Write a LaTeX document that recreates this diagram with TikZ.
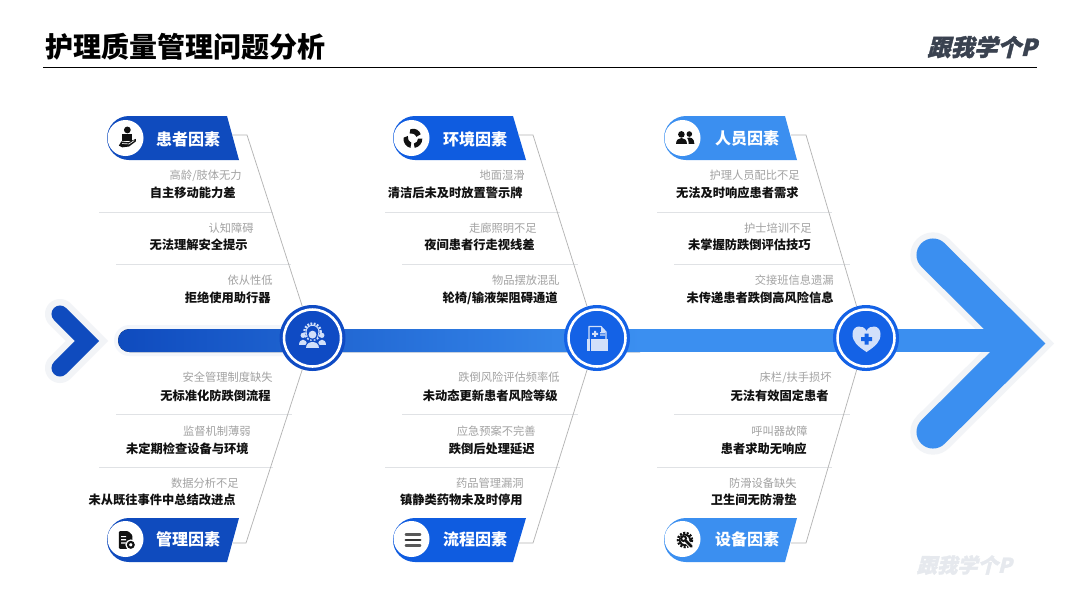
\documentclass[tikz,border=0pt]{standalone}
\usepackage{fontspec}
\setmainfont{Noto Sans CJK SC}
\newfontfamily\logofont[FakeSlant=0.25,BoldFeatures={FakeSlant=0.25,FakeBold=1.6}]{Noto Sans CJK SC}
\definecolor{navy}{HTML}{0F4BBE}
\definecolor{mid}{HTML}{0F5CE0}
\definecolor{sky}{HTML}{3B8FF0}
\definecolor{hubA}{HTML}{0F4BC4}
\definecolor{hubB}{HTML}{1462E6}
\definecolor{halo}{HTML}{F2F4F7}
\definecolor{spinehalo}{HTML}{F3F6FB}
\definecolor{pale}{HTML}{D2E0FA}
\definecolor{sepc}{HTML}{E0E2E5}
\definecolor{leadc}{HTML}{B4B4B4}
\definecolor{graytxt}{HTML}{A2A2A2}
\definecolor{inkc}{HTML}{111111}
\definecolor{logoc}{HTML}{3A4250}
\definecolor{wmc}{HTML}{E6E9EE}
\tikzset{
  sym/.style={text height=8.4pt,text depth=1pt,inner sep=0pt,anchor=east},
  gt/.style={sym,font=\fontsize{8.45}{10}\selectfont,text=graytxt},
  bt/.style={sym,font=\fontsize{9.2}{10}\selectfont\bfseries,text=inkc},
  tagtxt/.style={inner sep=0pt,text=white,font=\fontsize{12}{13}\selectfont\bfseries},
  sepl/.style={draw=sepc,line width=0.6pt},
  leader/.style={draw=leadc,line width=0.55pt},
  hub/.style={circle,minimum size=49.5pt,inner sep=0pt,fill=#1},
  ring/.style={draw=white,line width=1.9pt},
  ico/.style={fill=inkc,draw=none},
}
\newcommand{\tagshape}[5]{% colour, x0, ytop, xtopright, xbotright
  \fill[#1] (#4,#3) -- (#5,#3+44) -- (#2+22,#3+44) arc (90:270:22) -- cycle;
  \fill[white] (#2+18.5,#3+22) circle[radius=18];}
\begin{document}
\begin{tikzpicture}[x=0.75pt,y=-0.75pt]
\useasboundingbox (0,0) rectangle (1080,608);
\fill[white] (0,0) rectangle (1080,608);

% header
\node[inner sep=0pt,anchor=west,font=\fontsize{21}{24}\selectfont\bfseries] (title) at (45,47) {护理质量管理问题分析};
\coordinate (ruleL) at (43,67.5);
\coordinate (ruleR) at (1037,67.5);
\draw[line width=1.2pt,black] (ruleL) -- (ruleR);
\node[inner sep=0pt,anchor=east,font=\fontsize{17.5}{18}\logofont\bfseries,text=logoc] (logo) at (1037,47) {跟我学个P};
\node[inner sep=0pt,anchor=east,font=\fontsize{15.2}{16}\logofont\bfseries,text=wmc] (mark) at (1012,565) {跟我学个P};

% separators
\foreach \xa/\xb/\yy in {99/273/212,116/291/264,116/292/414,99/273/467,
  385/560/212,402/578/264,402/578/414,385/560/467,
  657/832/212,674/850/264,674/850/414,657/832/467}{
  \draw[sepl] (\xa,\yy) -- (\xb,\yy);}

% halos and ends of the spine
\draw[halo,line width=22.5pt,line cap=round,line join=miter] (60,314) -- (87,341) -- (60,368);
\draw[halo,line width=34pt,line cap=round,line join=miter] (933,255) -- (1022,343.5) -- (933,432);
\fill[spinehalo] (129.5,325) arc (270:90:15.5) -- (300,356) -- (300,325) -- cycle;
\draw[navy,line width=12.8pt,line cap=round,line join=miter] (60,314) -- (87,341) -- (60,368);

% spine
\fill[left color=navy,right color=sky] (129.5,329) arc (270:90:11.5) -- (640,352) -- (640,329) -- cycle;
\fill[sky] (639,329) rectangle (1000,352);
\draw[sky,line width=24.8pt,line cap=round,line join=miter] (933,255) -- (1022,343.5) -- (933,432);

% tags
\tagshape{navy}{107}{116}{227}{239}
\tagshape{mid}{393}{116}{513}{526}
\tagshape{sky}{664}{116}{785}{797}
\fill[navy] (239,518) -- (227,562) -- (129,562) arc (90:270:22) -- cycle;
\fill[white] (125.5,539) circle[radius=18];
\fill[mid] (526,518) -- (513,562) -- (415,562) arc (90:270:22) -- cycle;
\fill[white] (411.5,539) circle[radius=18];
\fill[sky] (797,518) -- (785,562) -- (686,562) arc (90:270:22) -- cycle;
\fill[white] (682.5,539) circle[radius=18];
\node[tagtxt] (tagA) at (188,139) {患者因素};
\node[tagtxt] (tagB) at (475,139) {环境因素};
\node[tagtxt] (tagC) at (747,139) {人员因素};
\node[tagtxt] (tagD) at (188,539) {管理因素};
\node[tagtxt] (tagE) at (475,539) {流程因素};
\node[tagtxt] (tagF) at (747,539) {设备因素};

% hubs
\node[hub=hubA] (hubL) at (312.5,338) {};
\node[hub=hubB] (hubM) at (597,338) {};
\node[hub=hubB] (hubR) at (866,338) {};
\draw[ring] (hubL) circle[radius=28.5];
\draw[ring] (hubM) circle[radius=28.5];
\draw[ring] (hubR) circle[radius=28.5];

% leaders
\coordinate (sA) at (232,135); \coordinate (eA) at (247,135);
\coordinate (sB) at (518,135); \coordinate (eB) at (533,135);
\coordinate (sC) at (791,135); \coordinate (eC) at (806,135);
\coordinate (sD) at (233,543); \coordinate (eD) at (246,543);
\coordinate (sE) at (518,543); \coordinate (eE) at (533,543);
\coordinate (sF) at (791,543); \coordinate (eF) at (806,543);
\draw[leader] (sA) -- (eA) -- (hubL);
\draw[leader] (sB) -- (eB) -- (hubM);
\draw[leader] (sC) -- (eC) -- (hubR);
\draw[leader] (sD) -- (eD) -- (hubL);
\draw[leader] (sE) -- (eE) -- (hubM);
\draw[leader] (sF) -- (eF) -- (hubR);

% causes, column 1
\node[gt] (a1) at (242,175) {高龄/肢体无力};
\node[bt] (a2) at (236,193) {自主移动能力差};
\node[gt] (a3) at (254,228) {认知障碍};
\node[bt] (a4) at (248,245) {无法理解安全提示};
\node[gt] (a5) at (273,280) {依从性低};
\node[bt] (a6) at (271,298) {拒绝使用助行器};
\node[gt] (d1) at (273,377) {安全管理制度缺失};
\node[bt] (d2) at (271,396) {无标准化防跌倒流程};
\node[gt] (d3) at (251,431) {监督机制薄弱};
\node[bt] (d4) at (249,449) {未定期检查设备与环境};
\node[gt] (d5) at (239,483) {数据分析不足};
\node[bt] (d6) at (236,500) {未从既往事件中总结改进点};
% column 2
\node[gt] (b1) at (525,175) {地面湿滑};
\node[bt] (b2) at (523,193) {清洁后未及时放置警示牌};
\node[gt] (b3) at (537,228) {走廊照明不足};
\node[bt] (b4) at (535,245) {夜间患者行走视线差};
\node[gt] (b5) at (560,280) {物品摆放混乱};
\node[bt] (b6) at (558,298) {轮椅/输液架阻碍通道};
\node[gt] (e1) at (560,377) {跌倒风险评估频率低};
\node[bt] (e2) at (558,396) {未动态更新患者风险等级};
\node[gt] (e3) at (536,431) {应急预案不完善};
\node[bt] (e4) at (535,449) {跌倒后处理延迟};
\node[gt] (e5) at (524,483) {药品管理漏洞};
\node[bt] (e6) at (523,500) {镇静类药物未及时停用};
% column 3
\node[gt] (c1) at (800,175) {护理人员配比不足};
\node[bt] (c2) at (799,193) {无法及时响应患者需求};
\node[gt] (c3) at (812,228) {护士培训不足};
\node[bt] (c4) at (811,245) {未掌握防跌倒评估技巧};
\node[gt] (c5) at (834,280) {交接班信息遗漏};
\node[bt] (c6) at (834,298) {未传递患者跌倒高风险信息};
\node[gt] (f1) at (832,377) {床栏/扶手损坏};
\node[bt] (f2) at (829,396) {无法有效固定患者};
\node[gt] (f3) at (808,431) {呼叫器故障};
\node[bt] (f4) at (807,449) {患者求助无响应};
\node[gt] (f5) at (797,483) {防滑设备缺失};
\node[bt] (f6) at (797,500) {卫生间无防滑垫};

% hub icons
\begin{scope}[shift={(312.5,337.5)},scale=0.72]
  \draw[pale,line width=1.7pt,dash pattern=on 1.4pt off 1.1pt] (0,-8) circle[radius=11.5];
  \draw[pale,line width=0.7pt] (0,-8) circle[radius=9];
  \fill[pale] (-13,-3) circle[radius=3.6] (13,-3) circle[radius=3.6];
  \fill[pale] (-19,10) .. controls (-19,1) and (-7,1) .. (-7,10) -- cycle;
  \fill[pale] (19,10) .. controls (19,1) and (7,1) .. (7,10) -- cycle;
  \fill[hubA] (0,-4) circle[radius=7.5];
  \fill[pale] (0,-4) circle[radius=5.5];
  \fill[hubA] (-10,14) .. controls (-10,1) and (10,1) .. (10,14) -- cycle;
  \fill[pale] (-8.5,14) .. controls (-8.5,3) and (8.5,3) .. (8.5,14) -- cycle;
\end{scope}
\begin{scope}[shift={(597,338)}]
  \draw[pale,line width=0.9pt,line join=round] (-8,1) -- (-8,-11.5) -- (4,-11.5) -- (9,-6) -- (9,1);
  \fill[pale] (4,-11.5) -- (4,-6) -- (9,-6) -- cycle;
  \fill[pale] (-5,-5.2) rectangle (1,-3.2) (-3,-7.2) rectangle (-1,-1.2);
  \fill[pale] (3,-5.8) rectangle (8,-4.6) (3,-3.6) rectangle (8,-2.4);
  \fill[pale] (-10,1) rectangle (11,12.5);
  \draw[hubB,line width=0.7pt] (-7,1) -- (-7,12.5);
\end{scope}
\begin{scope}[shift={(866.5,339)}]
  \fill[pale] (0,13) .. controls (-9,7) and (-14,3) .. (-14,-5) .. controls (-14,-14) and (-3,-15) .. (0,-8) .. controls (3,-15) and (14,-14) .. (14,-5) .. controls (14,3) and (9,7) .. (0,13) -- cycle;
  \fill[hubB] (-5.5,-2) rectangle (5.5,2) (-2,-5.5) rectangle (2,5.5);
\end{scope}

% tag icons
\begin{scope}[shift={(126.5,138)},scale=0.85]
  \fill[ico] (1,-9.5) circle[radius=4];
  \fill[ico] (-5,-4.5) rectangle (7,4);
  \fill[ico] (-9,9) -- (-6,4) -- (2,5) -- (11,1) -- (11,4) -- (3,10) -- (-5,11) -- cycle;
  \draw[white,line width=0.5pt] (-5,6.5) -- (3,7) -- (9,3);
\end{scope}
\begin{scope}[shift={(413,138.5)},scale=0.85]
  \fill[ico] (-3,-11) .. controls (3,-13) and (8,-9) .. (9,-5) -- (4,-2) .. controls (2,-6) and (-1,-6) .. (-4,-6) -- cycle;
  \fill[ico] (-11,-1) .. controls (-12,5) and (-8,10) .. (-3,11) -- (-2,5) .. controls (-5,4) and (-6,1) .. (-6,-3) -- cycle;
  \fill[ico] (11,0) .. controls (11,6) and (7,10) .. (2,11) -- (1,6) .. controls (4,5) and (6,3) .. (6,0) -- cycle;
\end{scope}
\begin{scope}[shift={(685,138)},scale=0.72]
  \fill[ico] (-5,-5) circle[radius=4.6] (6,-5.5) circle[radius=3.9];
  \fill[ico] (-13,8) .. controls (-13,-3) and (3,-3) .. (3,8) -- cycle;
  \fill[ico] (5,8) .. controls (5,3) and (4,1) .. (3,0) .. controls (7,-2) and (13,0) .. (13,8) -- cycle;
\end{scope}
\begin{scope}[shift={(126,540)},scale=0.8]
  \fill[ico,rounded corners=0.8pt] (-9,-11) -- (3,-11) -- (8,-6) -- (8,11) -- (-9,11) -- cycle;
  \fill[white] (-6,-5) rectangle (0,-3.6) (-6,-1) rectangle (0,0.4) (-6,3) rectangle (0,4.4);
  \fill[white] (6,6) circle[radius=6.8];
  \draw[draw=inkc,fill=none,line width=1.6pt] (6,6) circle[radius=3.6];
\end{scope}
\begin{scope}[shift={(413,540)},scale=0.8]
  \draw[inkc!70,line width=1.8pt,line cap=round] (-9,-7) -- (9,-7);
  \draw[inkc!85,line width=2.1pt,line cap=round] (-9,0) -- (9,0);
  \draw[inkc!70,line width=1.8pt,line cap=round] (-9,7) -- (9,7);
\end{scope}
\begin{scope}[shift={(685,540)},scale=0.72]
  \draw[inkc,line width=1.8pt,dash pattern=on 1.5pt off 1.1pt] (0,0) circle[radius=9.8];
  \draw[inkc,line width=1.4pt] (0,0) circle[radius=7.5];
  \fill[white] (-2,-2) circle[radius=5];
  \draw[inkc,line width=1.5pt] (-2,-2) circle[radius=3.4];
  \draw[white,line width=3.4pt] (1,1) -- (9,9);
  \draw[inkc,line width=2.1pt,line cap=round] (1,1) -- (9,9);
\end{scope}
\end{tikzpicture}
\end{document}
